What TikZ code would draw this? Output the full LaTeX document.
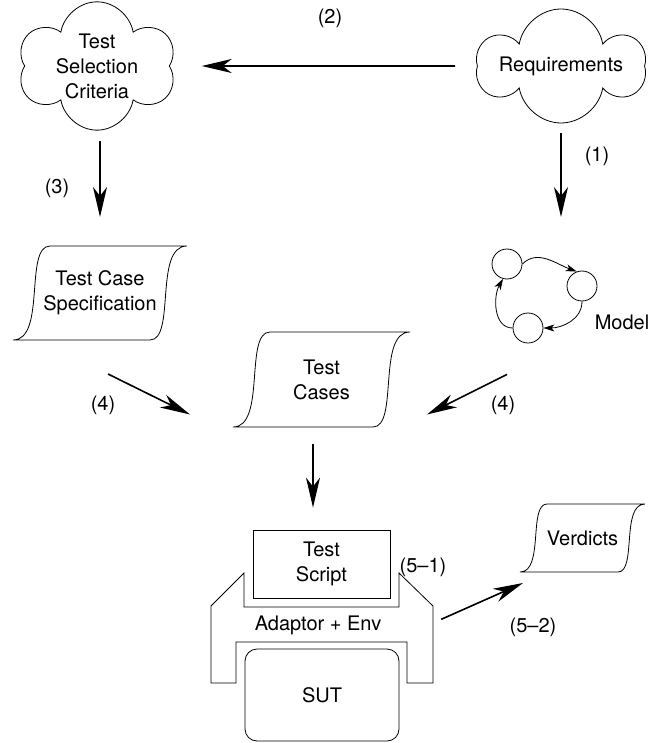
\documentclass[tikz,border=0pt]{standalone}
\usepackage{fontspec}
\setmainfont{TeX Gyre Heros}
\usetikzlibrary{shapes.symbols,arrows.meta,calc}
\newcommand{\tapeline}[2]{%
  \draw (#1.south west) .. controls +(0.9*#2,0) and ($(#1.north west)+(0.3*#2,0)$) .. ($(#1.north west)+(#2,0)$)
    -- (#1.north east) .. controls +(-0.9*#2,0) and ($(#1.south east)+(-0.3*#2,0)$) .. ($(#1.south east)+(-#2,0)$)
    -- cycle;}

\begin{document}
\begin{tikzpicture}[x=1pt,y=1pt,line width=0.8pt,
   every node/.style={font=\fontsize{20}{25}\selectfont,align=center},
   arr/.style={-{Stealth[length=30pt,width=14pt,inset=9pt]},line width=1.6pt},
   smallarr/.style={-{Stealth[length=11pt,width=7pt,inset=3pt]},line width=0.8pt},
   blob/.style={cloud,cloud puffs=6,cloud puff arc=160,cloud ignores aspect,shape border rotate=90,draw,inner sep=0pt},
   tape/.style={inner sep=0pt,outer sep=0pt}]
   \useasboundingbox (0,0) rectangle (650,-743);
   \node[blob,minimum width=158,minimum height=114] (crit) at (97,-66) {Test\\Selection\\Criteria};
   \node[blob,minimum width=166,minimum height=114] (req) at (561,-66) {Requirements};
   \node[tape,minimum width=174,minimum height=94] (spec) at (100,-293) {Test Case\\Specification};
   \tapeline{spec}{37}
   \node[tape,minimum width=177,minimum height=95] (cases) at (321.5,-379.5) {Test\\Cases};
   \tapeline{cases}{37}
   \node[tape,minimum width=125,minimum height=68] (verd) at (582.5,-538) {Verdicts};
   \tapeline{verd}{27}
   \node[circle,draw,minimum size=30,inner sep=0pt] (st1) at (507,-264) {};
   \node[circle,draw,minimum size=30,inner sep=0pt] (st2) at (582,-286) {};
   \node[circle,draw,minimum size=30,inner sep=0pt] (st3) at (528,-328) {};
   \node (model) at (622,-322) {Model};
   \draw[smallarr] (st1.east) to[out=45,in=160] (st2.110);
   \draw[smallarr] (st2.south) to[out=-90,in=0] (st3.east);
   \draw[smallarr] (st3.west) to[out=180,in=240] (st1.255);
   \node[draw,minimum width=137,minimum height=68] (script) at (321.5,-564) {Test\\Script};
   \draw (211,-683) -- (211,-606) -- (244,-573) -- (244,-607) -- (399,-607) -- (399,-573)
     -- (433,-606) -- (433,-683) -- (407,-683) -- (407,-642) -- (236,-642) -- (236,-683) -- cycle;
   \node (adaptor) at (318,-625) {Adaptor + Env};
   \node[draw,rounded corners=12pt,minimum width=154,minimum height=92] (sut) at (322,-695) {SUT};
   \coordinate (modeltop) at (561,-217);
   \coordinate (envR) at (433,-623);
   \draw[arr,shorten <=22pt,shorten >=32pt] (req.west) -- (crit.east);
   \draw[arr,shorten <=10pt] (req.south) -- (modeltop);
   \draw[arr,shorten <=10pt,shorten >=29pt] (crit.south -| spec.north) -- (spec.north);
   \draw[arr] ($(spec.south)+(8,-34)$) -- ($(cases.west)+(-43,-35)$);
   \draw[arr] ($(st3.south)+(-21,-31)$) -- ($(cases.east)+(17,-35)$);
   \draw[arr] ($(cases.south)+(-8.5,-17)$) -- ($(script.north)+(-8.5,22)$);
   \draw[arr,shorten <=9pt] (envR) -- ($(verd.south west)+(3,-11)$);
   \node (l2) at (330,-18) {(2)};
   \node (l1) at (597,-156) {(1)};
   \node (l3) at (57,-188) {(3)};
   \node (l4a) at (103,-405) {(4)};
   \node (l4b) at (503,-405) {(4)};
   \node (l51) at (423,-567) {(5--1)};
   \node (l52) at (533,-627) {(5--2)};
\end{tikzpicture}
\end{document}
